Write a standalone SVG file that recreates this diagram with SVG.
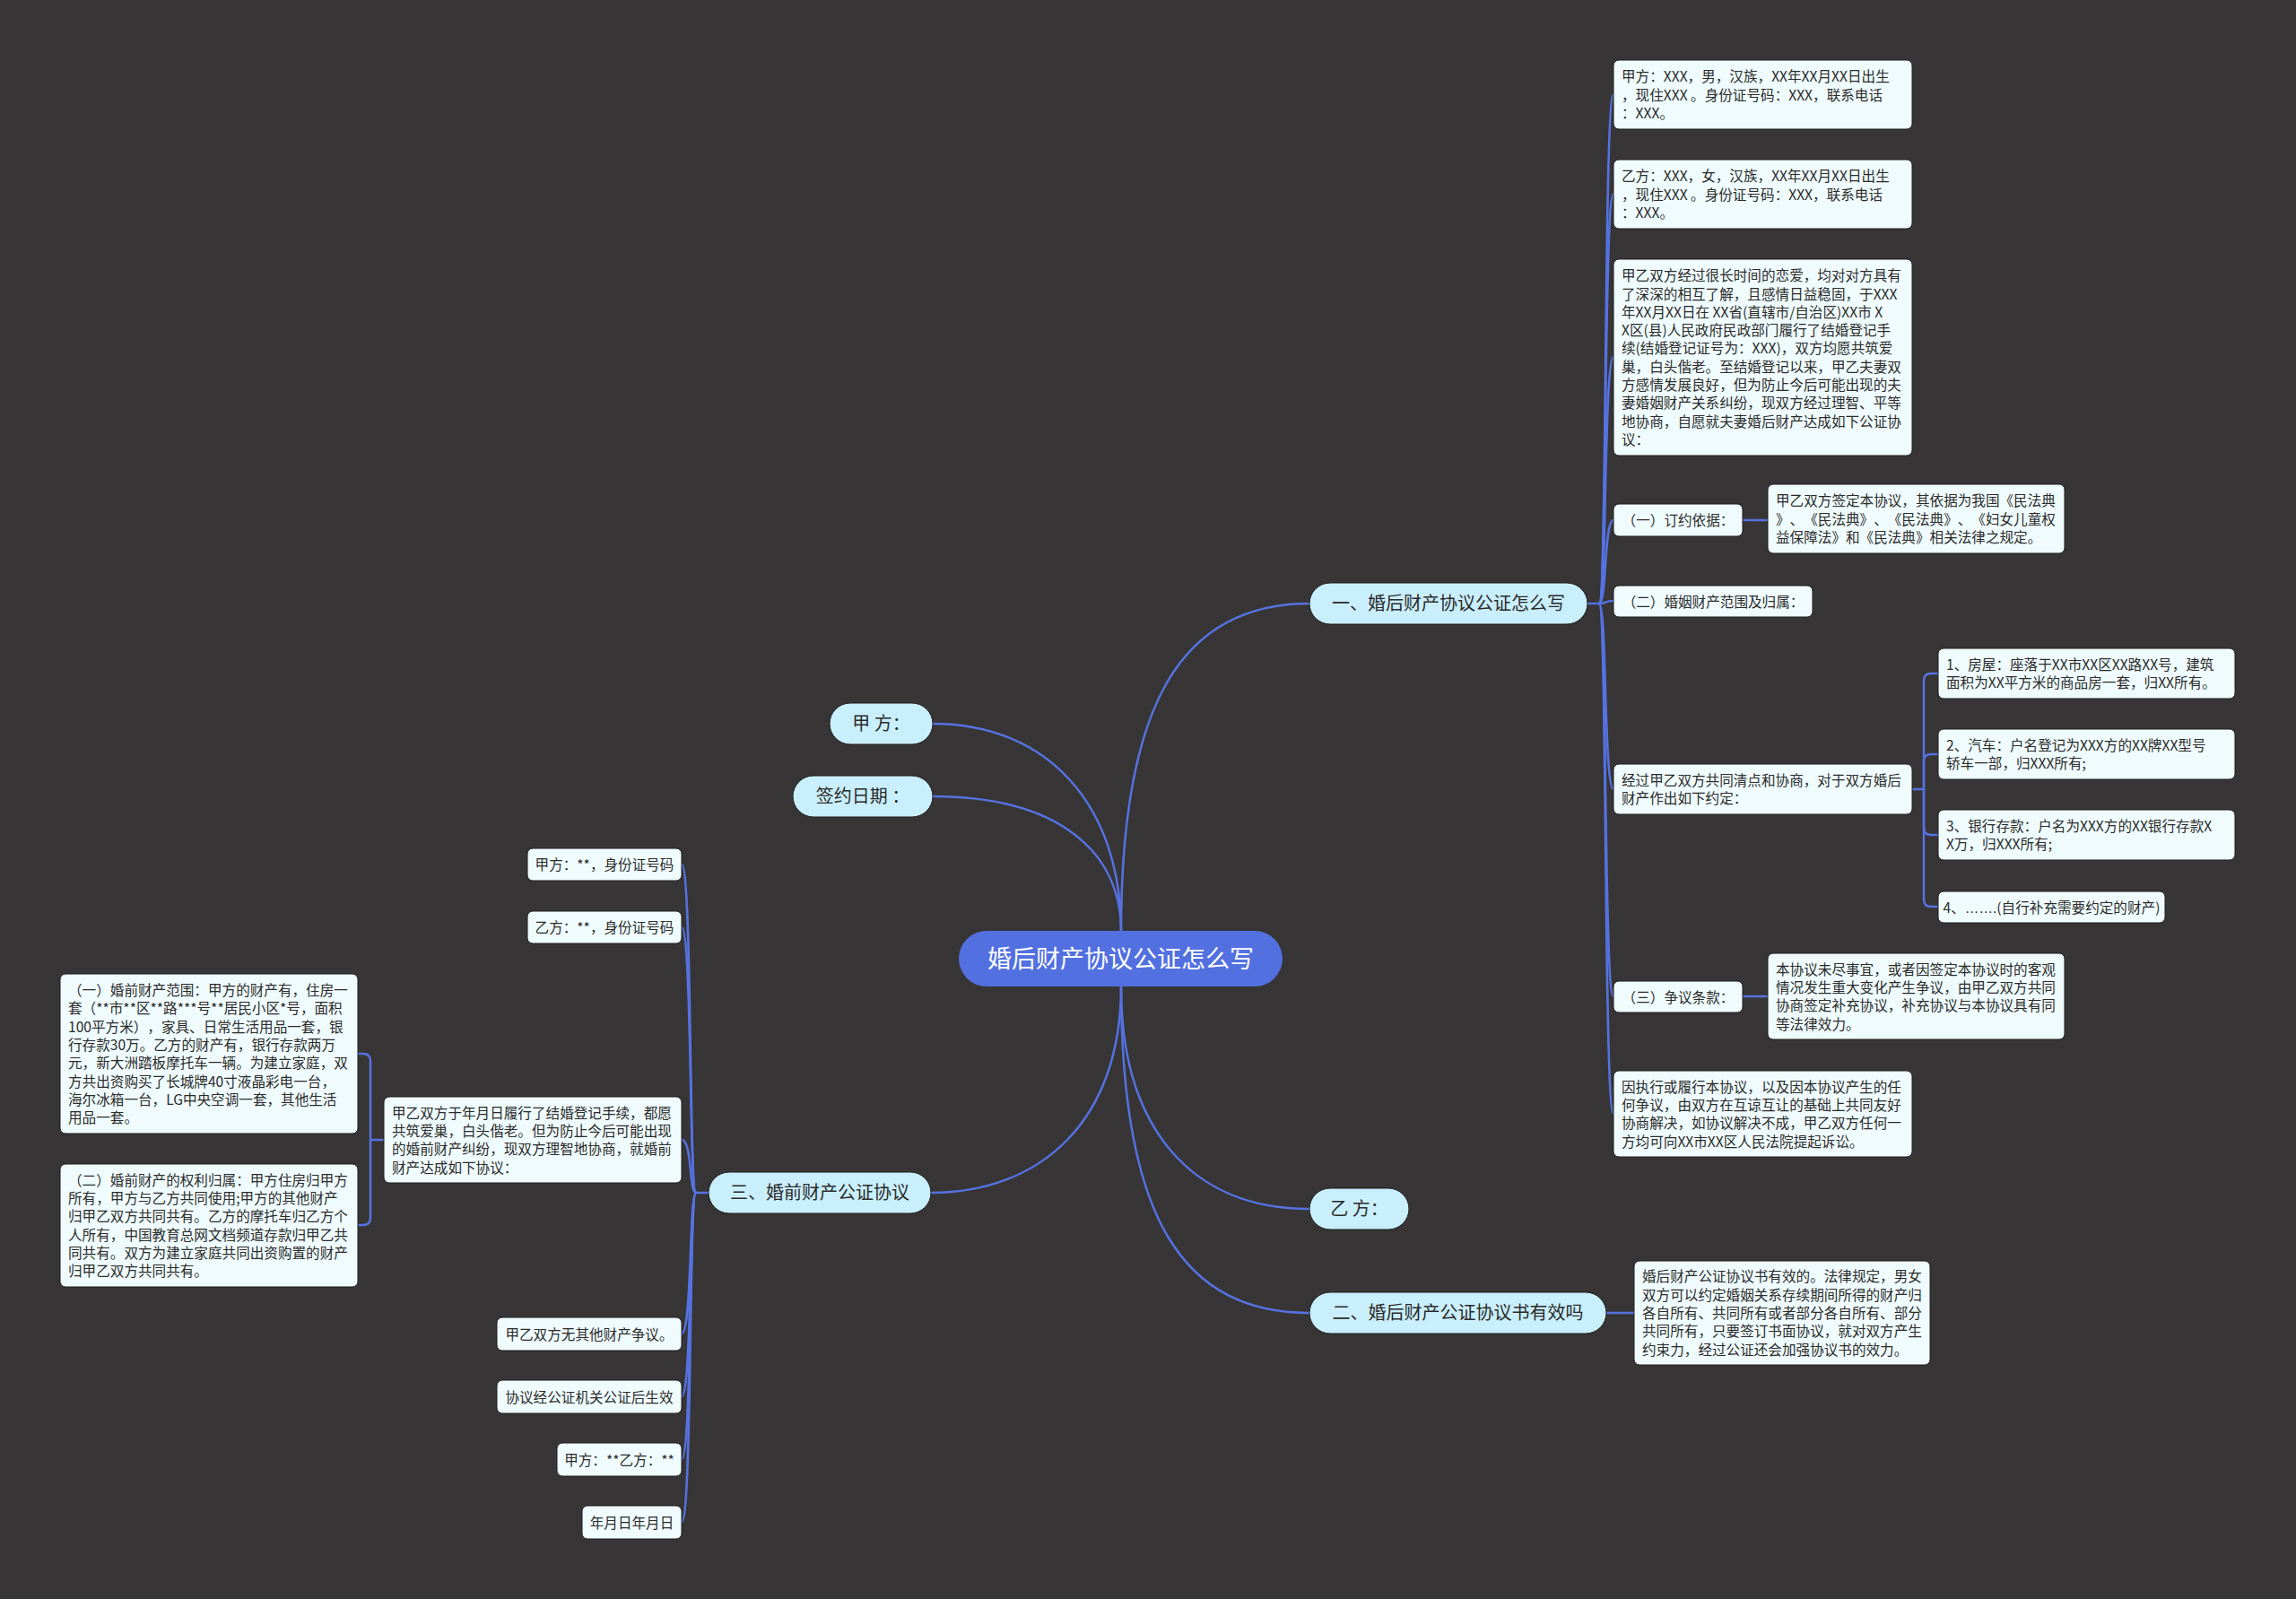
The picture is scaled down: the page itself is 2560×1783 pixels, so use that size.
<svg xmlns="http://www.w3.org/2000/svg" width="2560" height="1783" viewBox="0 0 2560 1783">
<style>
.bg{fill:#373536}
.c{fill:none;stroke:#5672e0;stroke-width:2.5;stroke-linecap:round}
.box{fill:#effbfd;stroke:#1e1e1e;stroke-width:1}
.pill{fill:#c9effc;stroke:#1e1e1e;stroke-width:1}
.root{fill:#5270e0}
text{text-spacing-trim:space-all}
.t{font-family:"Noto Sans CJK SC","Noto Sans",sans-serif;font-size:15.6px;fill:#2b2b2b}
.tm{text-anchor:middle}
.lat{font-family:"Liberation Sans",sans-serif}
.pt{font-family:"Noto Sans CJK SC","Noto Sans",sans-serif;font-size:20px;fill:#2b2b2b;text-anchor:middle}
.rt{font-family:"Noto Sans CJK SC","Noto Sans",sans-serif;font-size:27px;fill:#ffffff;text-anchor:middle}
</style>
<rect class="bg" x="0" y="0" width="2560" height="1783"/>
<g id="connectors">
<path class="c" d="M1250 1038 C1250 900 1170 807 1040 807"/>
<path class="c" d="M1250 1038 C1250 950 1180 888 1040 888"/>
<path class="c" d="M1250 1038 C1250 780 1320 673 1460 673"/>
<path class="c" d="M1250 1100 C1250 1260 1330 1348 1460 1348"/>
<path class="c" d="M1250 1100 C1250 1360 1320 1464 1460 1464"/>
<path class="c" d="M1250 1100 C1250 1250 1160 1330 1038 1330"/>
<path class="c" d="M1770 673 H1783"/>
<path class="c" d="M1783 673 C1792 673 1788 105 1799 105"/>
<path class="c" d="M1783 673 C1792 673 1788 216 1799 216"/>
<path class="c" d="M1783 673 C1792 673 1788 398 1799 398"/>
<path class="c" d="M1783 673 C1792 673 1788 580 1799 580"/>
<path class="c" d="M1783 673 C1792 673 1788 670 1799 670"/>
<path class="c" d="M1783 673 C1792 673 1788 880 1799 880"/>
<path class="c" d="M1783 673 C1792 673 1788 1111 1799 1111"/>
<path class="c" d="M1783 673 C1792 673 1788 1242 1799 1242"/>
<path class="c" d="M1943 580 H1971"/>
<path class="c" d="M1943 1111 H1971"/>
<path class="c" d="M2132 880 H2145"/>
<path class="c" d="M2145 880 V759 Q2145 751 2153 751 H2161"/>
<path class="c" d="M2145 880 V849 Q2145 841 2153 841 H2161"/>
<path class="c" d="M2145 880 V923 Q2145 931 2153 931 H2161"/>
<path class="c" d="M2145 880 V1003 Q2145 1011 2153 1011 H2161"/>
<path class="c" d="M1791 1464 H1822"/>
<path class="c" d="M790 1330 H776"/>
<path class="c" d="M776 1330 C768 1330 772 964 760 964"/>
<path class="c" d="M776 1330 C768 1330 772 1034 760 1034"/>
<path class="c" d="M776 1330 C768 1330 772 1271 760 1271"/>
<path class="c" d="M776 1330 C768 1330 772 1487 760 1487"/>
<path class="c" d="M776 1330 C768 1330 772 1557 760 1557"/>
<path class="c" d="M776 1330 C768 1330 772 1627 760 1627"/>
<path class="c" d="M776 1330 C768 1330 772 1697 760 1697"/>
<path class="c" d="M428 1271 H413"/>
<path class="c" d="M413 1271 V1183 Q413 1175 405 1175 H399"/>
<path class="c" d="M413 1271 V1358 Q413 1366 405 1366 H399"/>
</g>
<g id="root"><rect class="root" x="1069" y="1038" width="361" height="62" rx="31"/><text class="rt" x="1249.5" y="1078.5">婚后财产协议公证怎么写</text></g>
<g id="p-jia"><rect class="pill" x="925" y="784" width="115" height="46" rx="23"/><text class="pt" x="982.5" y="814">甲 方：</text></g>
<g id="p-date"><rect class="pill" x="884" y="865" width="156" height="46" rx="23"/><text class="pt" x="962" y="895">签约日期 ：</text></g>
<g id="p-1"><rect class="pill" x="1460" y="650" width="310" height="46" rx="23"/><text class="pt" x="1615" y="680">一、婚后财产协议公证怎么写</text></g>
<g id="p-yi"><rect class="pill" x="1460" y="1325" width="111" height="46" rx="23"/><text class="pt" x="1515.5" y="1355">乙 方：</text></g>
<g id="p-2"><rect class="pill" x="1460" y="1441" width="331" height="46" rx="23"/><text class="pt" x="1625.5" y="1471">二、婚后财产公证协议书有效吗</text></g>
<g id="p-3"><rect class="pill" x="790" y="1307" width="248" height="46" rx="23"/><text class="pt" x="914" y="1337">三、婚前财产公证协议</text></g>
<g id="r-a"><rect class="box" x="1799" y="67" width="333" height="77" rx="6"/><text class="t" x="1808" y="91.2"><tspan x="1808">甲方：XXX，男，汉族，XX年XX月XX日出生</tspan><tspan x="1808" dy="20.3">，现住XXX 。身份证号码：XXX，联系电话</tspan><tspan x="1808" dy="20.3">：XXX。</tspan></text></g>
<g id="r-b"><rect class="box" x="1799" y="178" width="333" height="77" rx="6"/><text class="t" x="1808" y="202.2"><tspan x="1808">乙方：XXX，女，汉族，XX年XX月XX日出生</tspan><tspan x="1808" dy="20.3">，现住XXX 。身份证号码：XXX，联系电话</tspan><tspan x="1808" dy="20.3">：XXX。</tspan></text></g>
<g id="r-c"><rect class="box" x="1799" y="289" width="333" height="219" rx="6"/><text class="t" x="1808" y="313.2"><tspan x="1808">甲乙双方经过很长时间的恋爱，均对对方具有</tspan><tspan x="1808" dy="20.3">了深深的相互了解，且感情日益稳固，于XXX</tspan><tspan x="1808" dy="20.3">年XX月XX日在 XX省(直辖市/自治区)XX市 X</tspan><tspan x="1808" dy="20.3">X区(县)人民政府民政部门履行了结婚登记手</tspan><tspan x="1808" dy="20.3">续(结婚登记证号为：XXX)，双方均愿共筑爱</tspan><tspan x="1808" dy="20.3">巢，白头偕老。至结婚登记以来，甲乙夫妻双</tspan><tspan x="1808" dy="20.3">方感情发展良好，但为防止今后可能出现的夫</tspan><tspan x="1808" dy="20.3">妻婚姻财产关系纠纷，现双方经过理智、平等</tspan><tspan x="1808" dy="20.3">地协商，自愿就夫妻婚后财产达成如下公证协</tspan><tspan x="1808" dy="20.3">议：</tspan></text></g>
<g id="r-d1"><rect class="box" x="1799" y="562" width="144" height="36" rx="6"/><text class="t tm" x="1871" y="586">（一）订约依据：</text></g>
<g id="r-d1c"><rect class="box" x="1971" y="540" width="331" height="77" rx="6"/><text class="t" x="1980" y="564.2"><tspan x="1980">甲乙双方签定本协议，其依据为我国《民法典</tspan><tspan x="1980" dy="20.3">》、《民法典》、《民法典》、《妇女儿童权</tspan><tspan x="1980" dy="20.3">益保障法》和《民法典》相关法律之规定。</tspan></text></g>
<g id="r-d2"><rect class="box" x="1799" y="653" width="222" height="35" rx="6"/><text class="t tm" x="1910" y="676.5">（二）婚姻财产范围及归属：</text></g>
<g id="r-e"><rect class="box" x="1799" y="852" width="333" height="56" rx="6"/><text class="t" x="1808" y="875.9"><tspan x="1808">经过甲乙双方共同清点和协商，对于双方婚后</tspan><tspan x="1808" dy="20.3">财产作出如下约定：</tspan></text></g>
<g id="r-e1"><rect class="box" x="2161" y="723" width="331" height="56" rx="6"/><text class="t" x="2170" y="746.9"><tspan x="2170">1、房屋：座落于XX市XX区XX路XX号，建筑</tspan><tspan x="2170" dy="20.3">面积为XX平方米的商品房一套，归XX所有。</tspan></text></g>
<g id="r-e2"><rect class="box" x="2161" y="813" width="331" height="56" rx="6"/><text class="t" x="2170" y="836.9"><tspan x="2170">2、汽车：户名登记为XXX方的XX牌XX型号</tspan><tspan x="2170" dy="20.3">轿车一部，归XXX所有;</tspan></text></g>
<g id="r-e3"><rect class="box" x="2161" y="903" width="331" height="56" rx="6"/><text class="t" x="2170" y="926.9"><tspan x="2170">3、银行存款：户名为XXX方的XX银行存款X</tspan><tspan x="2170" dy="20.3">X万，归XXX所有;</tspan></text></g>
<g id="r-e4"><rect class="box" x="2161" y="994" width="253" height="35" rx="6"/><text class="t tm" x="2287.5" y="1017.5">4、<tspan class="lat">…….</tspan>(自行补充需要约定的财产)</text></g>
<g id="r-d3"><rect class="box" x="1799" y="1094" width="144" height="35" rx="6"/><text class="t tm" x="1871" y="1117.5">（三）争议条款：</text></g>
<g id="r-d3c"><rect class="box" x="1971" y="1063" width="331" height="96" rx="6"/><text class="t" x="1980" y="1086.6"><tspan x="1980">本协议未尽事宜，或者因签定本协议时的客观</tspan><tspan x="1980" dy="20.3">情况发生重大变化产生争议，由甲乙双方共同</tspan><tspan x="1980" dy="20.3">协商签定补充协议，补充协议与本协议具有同</tspan><tspan x="1980" dy="20.3">等法律效力。</tspan></text></g>
<g id="r-f"><rect class="box" x="1799" y="1194" width="333" height="96" rx="6"/><text class="t" x="1808" y="1217.6"><tspan x="1808">因执行或履行本协议，以及因本协议产生的任</tspan><tspan x="1808" dy="20.3">何争议，由双方在互谅互让的基础上共同友好</tspan><tspan x="1808" dy="20.3">协商解决，如协议解决不成，甲乙双方任何一</tspan><tspan x="1808" dy="20.3">方均可向XX市XX区人民法院提起诉讼。</tspan></text></g>
<g id="r-g"><rect class="box" x="1822" y="1406" width="330" height="116" rx="6"/><text class="t" x="1831" y="1429.4"><tspan x="1831">婚后财产公证协议书有效的。法律规定，男女</tspan><tspan x="1831" dy="20.3">双方可以约定婚姻关系存续期间所得的财产归</tspan><tspan x="1831" dy="20.3">各自所有、共同所有或者部分各自所有、部分</tspan><tspan x="1831" dy="20.3">共同所有，只要签订书面协议，就对双方产生</tspan><tspan x="1831" dy="20.3">约束力，经过公证还会加强协议书的效力。</tspan></text></g>
<g id="l-a"><rect class="box" x="588" y="946" width="172" height="36" rx="6"/><text class="t tm" x="674" y="970">甲方：**，身份证号码</text></g>
<g id="l-b"><rect class="box" x="588" y="1016" width="172" height="36" rx="6"/><text class="t tm" x="674" y="1040">乙方：**，身份证号码</text></g>
<g id="l-c"><rect class="box" x="428" y="1223" width="332" height="96" rx="6"/><text class="t" x="437" y="1246.6"><tspan x="437">甲乙双方于年月日履行了结婚登记手续，都愿</tspan><tspan x="437" dy="20.3">共筑爱巢，白头偕老。但为防止今后可能出现</tspan><tspan x="437" dy="20.3">的婚前财产纠纷，现双方理智地协商，就婚前</tspan><tspan x="437" dy="20.3">财产达成如下协议：</tspan></text></g>
<g id="l-c1"><rect class="box" x="67" y="1086" width="332" height="178" rx="6"/><text class="t" x="76" y="1110"><tspan x="76">（一）婚前财产范围：甲方的财产有，住房一</tspan><tspan x="76" dy="20.3">套（**市**区**路***号**居民小区*号，面积</tspan><tspan x="76" dy="20.3">100平方米），家具、日常生活用品一套，银</tspan><tspan x="76" dy="20.3">行存款30万。乙方的财产有，银行存款两万</tspan><tspan x="76" dy="20.3">元，新大洲踏板摩托车一辆。为建立家庭，双</tspan><tspan x="76" dy="20.3">方共出资购买了长城牌40寸液晶彩电一台，</tspan><tspan x="76" dy="20.3">海尔冰箱一台，LG中央空调一套，其他生活</tspan><tspan x="76" dy="20.3">用品一套。</tspan></text></g>
<g id="l-c2"><rect class="box" x="67" y="1298" width="332" height="137" rx="6"/><text class="t" x="76" y="1321.8"><tspan x="76">（二）婚前财产的权利归属：甲方住房归甲方</tspan><tspan x="76" dy="20.3">所有，甲方与乙方共同使用;甲方的其他财产</tspan><tspan x="76" dy="20.3">归甲乙双方共同共有。乙方的摩托车归乙方个</tspan><tspan x="76" dy="20.3">人所有，中国教育总网文档频道存款归甲乙共</tspan><tspan x="76" dy="20.3">同共有。双方为建立家庭共同出资购置的财产</tspan><tspan x="76" dy="20.3">归甲乙双方共同共有。</tspan></text></g>
<g id="l-d"><rect class="box" x="554" y="1469" width="206" height="37" rx="6"/><text class="t tm" x="657" y="1493.5">甲乙双方无其他财产争议。</text></g>
<g id="l-e"><rect class="box" x="554" y="1539" width="206" height="37" rx="6"/><text class="t tm" x="657" y="1563.5">协议经公证机关公证后生效</text></g>
<g id="l-f"><rect class="box" x="621" y="1609" width="139" height="37" rx="6"/><text class="t tm" x="690.5" y="1633.5">甲方：**乙方：**</text></g>
<g id="l-g"><rect class="box" x="649" y="1679" width="111" height="37" rx="6"/><text class="t tm" x="704.5" y="1703.5">年月日年月日</text></g>
</svg>
